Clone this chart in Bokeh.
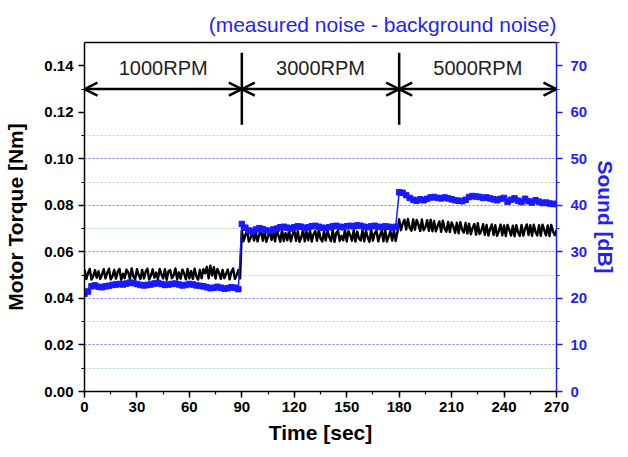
from bokeh.plotting import figure
from bokeh.models import (Range1d, LinearAxis, SingleIntervalTicker, FixedTicker, Grid,
                          Arrow, OpenHead, Label, PrintfTickFormatter, Title)
from bokeh.embed import file_html
from bokeh.resources import INLINE

# ---------------- data ----------------
torque_time = list(range(0, 271))  # seconds, 1 s sampling
torque_mnm = [
    # 1000 RPM (t = 0..89)
    52.4, 48.3, 50.9, 52.7, 48.1, 49.6, 52.2, 48.9, 51.7, 48.4,
    50.2, 52.6, 48.6, 51.0, 52.8, 48.2, 49.5, 52.3, 48.5, 51.4,
    52.7, 48.0, 50.6, 48.7, 52.4, 51.2, 48.4, 52.9, 49.3, 48.2,
    52.6, 50.1, 48.3, 52.2, 48.6, 51.5, 52.8, 48.1, 49.8, 52.5,
    48.9, 51.1, 48.2, 52.7, 50.4, 48.6, 52.6, 48.0, 51.6, 52.2,
    48.7, 49.9, 52.9, 48.3, 51.2, 48.5, 52.4, 50.7, 48.2, 52.7,
    48.6, 51.8, 48.4, 52.8, 49.5, 48.1, 52.3, 48.7, 52.6, 50.8,
    53.6, 48.6, 54.1, 49.8, 53.4, 48.5, 52.7, 51.0, 48.4, 52.3,
    48.7, 50.6, 52.4, 48.2, 51.3, 52.9, 48.4, 50.0, 52.2, 48.6,
    # 3000 RPM (t = 90..179)
    69.1, 64.6, 67.2, 69.4, 64.4, 66.0, 69.0, 64.9, 68.6, 64.5,
    67.5, 69.2, 64.8, 68.9, 64.3, 66.6, 69.5, 65.1, 68.7, 64.6,
    69.3, 66.9, 64.4, 69.6, 64.7, 68.1, 65.0, 69.2, 64.5, 67.3,
    69.4, 64.8, 68.9, 64.3, 66.2, 69.5, 64.6, 68.7, 65.0, 69.3,
    64.4, 67.6, 69.0, 64.8, 69.6, 65.7, 64.5, 68.8, 64.9, 69.2,
    66.4, 64.6, 69.4, 64.3, 68.1, 69.1, 64.7, 66.9, 65.0, 69.5,
    64.5, 69.0, 67.2, 64.8, 69.3, 64.4, 68.8, 65.8, 64.9, 69.4,
    64.6, 69.1, 66.3, 64.3, 69.6, 64.8, 68.0, 69.2, 64.5, 67.1,
    69.0, 64.6, 69.5, 64.4, 66.8, 68.8, 64.9, 69.3, 64.7, 68.4,
    # 5000 RPM (t = 180..270)
    74.0, 69.3, 72.1, 73.8, 69.6, 74.2, 70.4, 69.1, 73.9, 69.5,
    73.7, 71.8, 69.0, 73.9, 69.3, 70.6, 73.6, 69.1, 73.8, 68.9,
    73.3, 68.8, 71.2, 73.1, 68.6, 73.4, 70.0, 68.7, 72.9, 68.5,
    72.7, 70.9, 68.2, 72.5, 68.0, 72.8, 69.6, 68.3, 72.4, 67.9,
    72.1, 67.6, 70.3, 72.0, 67.4, 72.3, 67.7, 69.1, 71.9, 67.3,
    71.6, 67.0, 69.8, 71.8, 67.2, 71.5, 66.9, 68.9, 71.7, 67.1,
    71.4, 66.8, 71.6, 69.5, 67.0, 71.3, 66.7, 71.5, 68.4, 66.9,
    71.6, 67.0, 69.9, 71.8, 67.2, 71.5, 66.9, 71.7, 68.6, 67.1,
    71.5, 66.9, 71.7, 69.3, 67.1, 71.4, 66.8, 71.6, 68.8, 67.2,
    69.5,
]
torque_nm = [v / 1000.0 for v in torque_mnm]

sound_time = list(range(0, 271, 2))  # seconds, 2 s sampling
sound_db = [
    # 1000 RPM (t = 0..88)
    21.0, 21.5, 22.6, 22.8, 22.5, 22.4, 22.6, 22.7, 22.9, 23.0,
    23.1, 23.0, 23.2, 23.4, 23.3, 23.1, 22.9, 22.8, 22.9, 23.0,
    23.2, 23.3, 23.1, 22.9, 23.0, 23.1, 23.2, 23.0, 22.8, 22.9,
    23.1, 23.0, 22.8, 22.7, 22.6, 22.4, 22.2, 22.3, 22.5, 22.3,
    22.1, 22.2, 22.4, 22.3, 22.0,
    # 3000 RPM (t = 90..178)
    36.0, 35.2, 34.6, 34.4, 34.8, 35.1, 34.9, 34.6, 34.5, 34.8,
    35.0, 35.3, 35.4, 35.2, 35.0, 35.3, 35.5, 35.4, 35.1, 35.3,
    35.5, 35.6, 35.4, 35.2, 35.1, 35.3, 35.5, 35.6, 35.4, 35.3,
    35.5, 35.6, 35.5, 35.7, 35.6, 35.4, 35.3, 35.5, 35.6, 35.4,
    35.3, 35.5, 35.4, 35.2, 35.4,
    # 5000 RPM (t = 180..270)
    42.8, 42.7, 42.2, 41.6, 41.2, 41.0, 41.3, 41.1, 41.4, 41.7,
    41.8, 41.6, 41.5, 41.7, 41.5, 41.3, 41.1, 41.0, 40.9, 41.2,
    41.8, 42.0, 41.9, 41.8, 41.6, 41.7, 41.5, 41.3, 41.1, 41.4,
    41.6, 40.8, 41.2, 41.5, 41.0, 40.7, 41.4, 40.9, 40.6, 41.1,
    40.8, 40.5, 40.6, 40.4, 40.3, 40.3,
]

rpm_labels = ["1000RPM", "3000RPM", "5000RPM"]
rpm_edges = [0, 90, 180, 270]
rpm_arrow_y = 0.130
rpm_label_y = 0.139
rpm_divider = (0.1147, 0.1456)

major_grid = [0.02, 0.04, 0.06, 0.08, 0.10]
minor_grid = [0.01, 0.03, 0.05, 0.07, 0.09, 0.11]

title_text = "(measured noise - background noise)"

# ---------------- styling ----------------
FONT = "Liberation Sans"
BLUE = "#1f1fff"
DATA_BLUE = "#1a1aff"

p = figure(width=620, height=449, x_range=Range1d(0, 270), y_range=Range1d(0, 0.15),
           output_backend="svg", toolbar_location=None,
           min_border_left=84, min_border_right=62, min_border_top=42, min_border_bottom=58)
p.extra_y_ranges = {"sound": Range1d(0, 75)}
p.outline_line_color = None
p.xgrid.visible = False
p.ygrid.visible = False
p.background_fill_color = "white"

# grids
g1 = Grid(dimension=1, ticker=FixedTicker(ticks=major_grid), grid_line_color="#7b7bff",
          grid_line_dash="2 2", grid_line_width=1)
g2 = Grid(dimension=1, ticker=FixedTicker(ticks=minor_grid), grid_line_color="#a8dca8",
          grid_line_dash="2 2", grid_line_width=1)
p.add_layout(g2)
p.add_layout(g1)

# left axis
ya = p.yaxis[0]
ya.ticker = SingleIntervalTicker(interval=0.02, num_minor_ticks=2)
ya.formatter = PrintfTickFormatter(format="%.2f")
ya.axis_label = "Motor Torque [Nm]"
ya.axis_label_text_font = FONT
ya.axis_label_text_font_size = "21px"
ya.axis_label_text_font_style = "bold"
ya.axis_label_text_color = "black"
ya.axis_label_standoff = 14
ya.major_label_text_font = FONT
ya.major_label_text_font_size = "15px"
ya.major_label_text_font_style = "bold"
ya.major_label_text_color = "black"
ya.axis_line_width = 1.5
ya.major_tick_line_width = 1.5
ya.minor_tick_line_width = 1.2
ya.major_tick_in = 0
ya.major_tick_out = 6
ya.minor_tick_in = 0
ya.minor_tick_out = 3

# bottom axis
xa = p.xaxis[0]
xa.ticker = SingleIntervalTicker(interval=30, num_minor_ticks=2)
xa.axis_label = "Time [sec]"
xa.axis_label_text_font = FONT
xa.axis_label_text_font_size = "21px"
xa.axis_label_text_font_style = "bold"
xa.axis_label_text_color = "black"
xa.axis_label_standoff = 6
xa.major_label_standoff = 4
xa.major_label_text_font = FONT
xa.major_label_text_font_size = "15px"
xa.major_label_text_font_style = "bold"
xa.major_label_text_color = "black"
xa.axis_line_width = 1.5
xa.major_tick_line_width = 1.5
xa.minor_tick_line_width = 1.2
xa.major_tick_in = 0
xa.major_tick_out = 6
xa.minor_tick_in = 0
xa.minor_tick_out = 3

# right axis
ra = LinearAxis(y_range_name="sound", ticker=SingleIntervalTicker(interval=10, num_minor_ticks=2),
                axis_label="Sound [dB]")
ra.axis_label_text_font = FONT
ra.axis_label_text_font_size = "21px"
ra.axis_label_text_font_style = "bold"
ra.axis_label_text_color = BLUE
ra.axis_label_standoff = 4
ra.major_label_standoff = 8
ra.major_label_text_font = FONT
ra.major_label_text_font_size = "15px"
ra.major_label_text_font_style = "bold"
ra.major_label_text_color = BLUE
ra.axis_line_color = BLUE
ra.major_tick_line_color = BLUE
ra.minor_tick_line_color = BLUE
ra.axis_line_width = 1.5
ra.major_tick_line_width = 1.5
ra.minor_tick_line_width = 1.2
ra.major_tick_in = 0
ra.major_tick_out = 6
ra.minor_tick_in = 0
ra.minor_tick_out = 3
p.add_layout(ra, "right")

# top frame line
ta = LinearAxis(ticker=FixedTicker(ticks=[]), major_label_text_font_size="0px",
                major_label_standoff=0,
                major_tick_out=0, major_tick_in=0, minor_tick_out=0, minor_tick_in=0,
                axis_line_color="black", axis_line_width=1.5)
p.add_layout(ta, "above")

# title (top right)
p.add_layout(Title(text=title_text, align="right", text_font=FONT, text_font_size="21px",
                   text_font_style="normal", text_color=BLUE, standoff=13), "above")

# data
p.line(torque_time, torque_nm, line_color="black", line_width=2.4, line_join="round")
p.line(sound_time, sound_db, y_range_name="sound", line_color=DATA_BLUE, line_width=1.5)
p.scatter(sound_time, sound_db, y_range_name="sound", marker="square", size=5.5,
          fill_color=DATA_BLUE, line_color=DATA_BLUE)

# RPM annotations
for i, lab in enumerate(rpm_labels):
    x0, x1 = rpm_edges[i], rpm_edges[i + 1]
    p.add_layout(Arrow(start=OpenHead(size=13, line_width=2.5, line_color="black"),
                       end=OpenHead(size=13, line_width=2.5, line_color="black"),
                       x_start=x0, x_end=x1, y_start=rpm_arrow_y, y_end=rpm_arrow_y,
                       line_width=2.5, line_color="black"))
    p.add_layout(Label(x=(x0 + x1) / 2, y=rpm_label_y, text=lab, text_align="center",
                       text_baseline="middle", text_font=FONT, text_font_size="20px",
                       text_color="#222222"))
p.segment(x0=rpm_edges[1:3], x1=rpm_edges[1:3], y0=[rpm_divider[0]] * 2, y1=[rpm_divider[1]] * 2,
          line_color="black", line_width=2.5)

open("out.html", "w").write(file_html(p, INLINE))
